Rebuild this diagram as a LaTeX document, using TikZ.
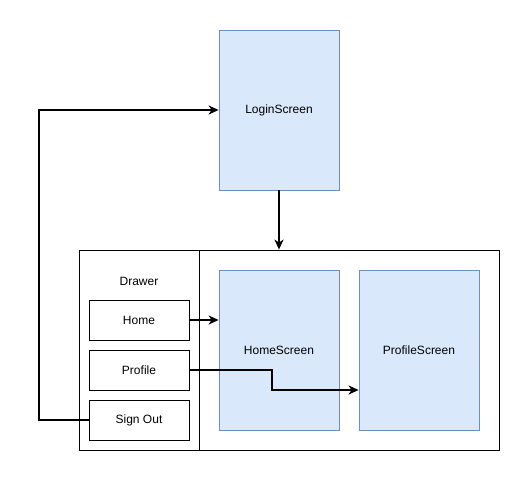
\documentclass[tikz,border=0pt]{standalone}
\usepackage{fontspec}
\setmainfont{Liberation Sans}
\usetikzlibrary{arrows.meta}
\definecolor{scrfill}{HTML}{DAE8FC}
\definecolor{scrdraw}{HTML}{6C8EBF}
\tikzset{
  screen/.style={draw=scrdraw, fill=scrfill, line width=0.8pt, minimum width=120pt, minimum height=160pt, inner sep=0pt, font=\fontsize{12}{14}\selectfont},
  item/.style={draw=black, fill=white, line width=0.8pt, minimum width=100pt, minimum height=40pt, inner sep=0pt, font=\fontsize{12}{14}\selectfont},
  conn/.style={draw=black, line width=1.5pt, -{Stealth[length=10pt,width=9pt,inset=3pt]}, line join=miter},
  frame/.style={draw=black, line width=0.8pt}
}
\begin{document}
\begin{tikzpicture}[x=1pt,y=-1pt]
\useasboundingbox (0,0) rectangle (529,481);
\node[frame, minimum width=420pt, minimum height=200pt, inner sep=0pt] (cont) at (289,350) {};
\draw[frame] (199,250) -- (199,450);
\node[font=\fontsize{12}{14}\selectfont] (drawer) at (139,281) {Drawer};
\node[screen] (login) at (279,110) {LoginScreen};
\node[screen] (home) at (279,350) {HomeScreen};
\node[screen] (profile) at (419,350) {ProfileScreen};
\node[item] (ihome) at (139,320) {Home};
\node[item] (iprofile) at (139,370) {Profile};
\node[item] (isignout) at (139,420) {Sign Out};
\coordinate (loopcorner) at (39,420);
\coordinate (bend) at (272,370);
\draw[conn] (login.south) -- (cont.north -| login.south);
\draw[conn] (ihome.east) -- (home.west |- ihome.east);
\draw[conn] (iprofile.east) -- (bend) -- (bend |- 0,390) -- (profile.west |- 0,390);
\draw[conn] (isignout.west) -- (loopcorner) -- (loopcorner |- login.west) -- (login.west);
\end{tikzpicture}
\end{document}
